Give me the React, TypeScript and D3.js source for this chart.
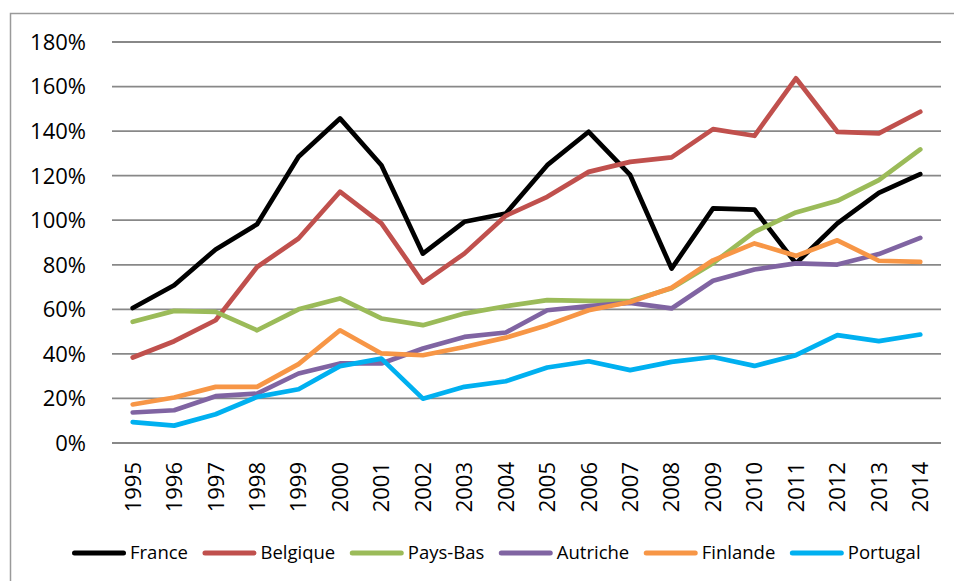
import React, { useRef, useEffect } from "react";
import * as d3 from "d3";

const years = [
  "1995", "1996", "1997", "1998", "1999", "2000", "2001", "2002", "2003", "2004",
  "2005", "2006", "2007", "2008", "2009", "2010", "2011", "2012", "2013", "2014",
];

const france = [60.6, 70.8, 86.9, 98.2, 128.5, 145.7, 124.7, 85, 99.3, 103, 124.7, 139.7, 120.3, 78.3, 105.3, 104.8, 80.6, 98.6, 112.3, 120.7];
const belgique = [38.4, 45.7, 55.1, 79, 91.8, 112.8, 98.6, 72, 85, 102, 110.5, 121.7, 126.2, 128.2, 140.9, 137.9, 163.7, 139.7, 139, 148.7];
const paysBas = [54.4, 59.3, 58.9, 50.6, 60, 64.9, 55.9, 52.9, 58.1, 61.4, 64.1, 63.8, 63.7, 69.5, 80.7, 94.8, 103.5, 108.7, 118, 131.8];
const autriche = [13.7, 14.7, 21, 22.2, 31.2, 35.7, 35.7, 42.4, 47.6, 49.6, 59.6, 61.4, 62.9, 60.4, 72.8, 77.9, 80.6, 80.1, 84.8, 92.1];
const finlande = [17.3, 20.4, 25.2, 25.2, 35.4, 50.6, 40.2, 39.4, 43.1, 47.3, 52.9, 59.6, 63.3, 69.7, 82, 89.6, 84, 91, 81.8, 81.3];
const portugal = [9.4, 7.8, 12.9, 20.7, 24.1, 34.5, 37.9, 19.9, 25.2, 27.7, 33.9, 36.7, 32.7, 36.4, 38.6, 34.6, 39.4, 48.4, 45.7, 48.7];

const seriesNames = ["France", "Belgique", "Pays-Bas", "Autriche", "Finlande", "Portugal"];
const seriesValues = [france, belgique, paysBas, autriche, finlande, portugal];
const seriesColors = ["#000000", "#C0504D", "#9BBB59", "#8064A2", "#F79646", "#00B0F0"];

const yTicks = [0, 20, 40, 60, 80, 100, 120, 140, 160, 180];

const App = () => {
  const svgRef = useRef<SVGSVGElement>(null);

  useEffect(() => {
    const width = 954;
    const height = 581;
    const left = 112;
    const right = 941;
    const top = 42;
    const bottom = 443;
    const font = "'Open Sans', sans-serif";

    const root = d3.select(svgRef.current);
    root.selectAll("*").remove();
    root.attr("width", width).attr("height", height);

    // chart frame (clipped at right/bottom in the original)
    root.append("rect")
      .attr("x", 10.5)
      .attr("y", 13.5)
      .attr("width", 1000)
      .attr("height", 1000)
      .attr("fill", "none")
      .attr("stroke", "#9a9a9a")
      .attr("stroke-width", 1.5);

    const x = d3.scalePoint<string>().domain(years).range([left, right]).padding(0.5);
    const y = d3.scaleLinear().domain([0, 180]).range([bottom, top]);

    // gridlines
    root.append("g")
      .selectAll("line")
      .data(yTicks)
      .enter()
      .append("line")
      .attr("x1", left)
      .attr("x2", right)
      .attr("y1", d => y(d))
      .attr("y2", d => y(d))
      .attr("stroke", "#888888")
      .attr("stroke-width", 1.8);

    // y labels
    root.append("g")
      .selectAll("text")
      .data(yTicks)
      .enter()
      .append("text")
      .attr("x", 86)
      .attr("y", d => y(d))
      .attr("dy", "0.36em")
      .attr("text-anchor", "end")
      .attr("font-family", font)
      .attr("font-size", 22)
      .attr("fill", "#000")
      .text(d => `${d}%`);

    // x labels (rotated)
    root.append("g")
      .selectAll("text")
      .data(years)
      .enter()
      .append("text")
      .attr("transform", d => `translate(${x(d)}, 462) rotate(-90)`)
      .attr("dy", "0.36em")
      .attr("text-anchor", "end")
      .attr("font-family", font)
      .attr("font-size", 22)
      .attr("fill", "#000")
      .text(d => d);

    // series lines
    const line = d3.line<number>()
      .x((_, i) => x(years[i]) as number)
      .y(d => y(d));

    root.append("g")
      .selectAll("path")
      .data(seriesValues)
      .enter()
      .append("path")
      .attr("d", d => line(d))
      .attr("fill", "none")
      .attr("stroke", (_, i) => seriesColors[i])
      .attr("stroke-width", 4.7)
      .attr("stroke-linejoin", "round")
      .attr("stroke-linecap", "round");

    // legend
    const legend = root.append("g");
    const legendY = 553;
    let cursor = 72;
    seriesNames.forEach((name, i) => {
      legend.append("line")
        .attr("x1", cursor + 2.5)
        .attr("x2", cursor + 51.5)
        .attr("y1", legendY)
        .attr("y2", legendY)
        .attr("stroke", seriesColors[i])
        .attr("stroke-width", 5)
        .attr("stroke-linecap", "round");
      const t = legend.append("text")
        .attr("x", cursor + 58)
        .attr("y", legendY)
        .attr("dy", "0.35em")
        .attr("font-family", font)
        .attr("font-size", 18.5)
        .attr("fill", "#000")
        .text(name);
      const w = (t.node() as SVGTextElement).getComputedTextLength();
      cursor = cursor + 58 + w + 14.5;
    });
  }, []);

  return (
    <div>
      <svg ref={svgRef} style={{ position: "absolute", left: 0, top: 0, display: "block" }}></svg>
    </div>
  );
};

export default App;
